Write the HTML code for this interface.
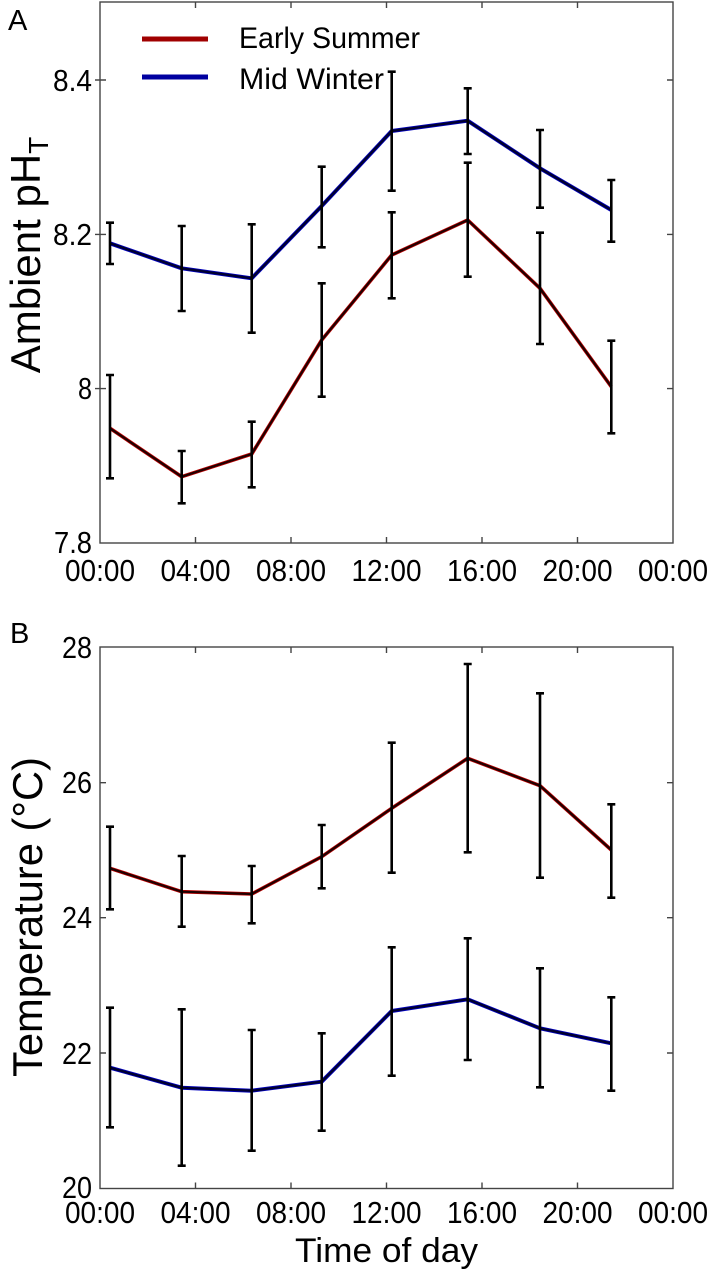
<!DOCTYPE html>
<html><head><meta charset="utf-8"><style>
html,body{margin:0;padding:0;background:#fff;}
svg{display:block;}
text{font-family:"Liberation Sans",sans-serif;fill:#000;}
</style></head><body>
<svg width="711" height="1280" viewBox="0 0 711 1280" xmlns="http://www.w3.org/2000/svg">
<!-- Panel labels -->
<text x="8" y="30" font-size="29">A</text>
<text x="10" y="643" font-size="29">B</text>

<!-- ===== Panel A ===== -->
<g stroke="#444" stroke-width="1.4" fill="none">
<rect x="100" y="2" width="573" height="541"/>
<path d="M195.5,543v-6M291,543v-6M386.5,543v-6M482,543v-6M577.5,543v-6
M195.5,2v6M291,2v6M386.5,2v6M482,2v6M577.5,2v6
M100,80h6M100,234.4h6M100,388.6h6M673,80h-6M673,234.4h-6M673,388.6h-6M95,80h5M95,234.4h5M95,388.6h5"/>
</g>
<g font-size="31" text-anchor="end">
<text x="92" y="91" textLength="39" lengthAdjust="spacingAndGlyphs">8.4</text>
<text x="92" y="245" textLength="39" lengthAdjust="spacingAndGlyphs">8.2</text>
<text x="92" y="399" textLength="14" lengthAdjust="spacingAndGlyphs">8</text>
<text x="92" y="553" textLength="38" lengthAdjust="spacingAndGlyphs">7.8</text>
</g>
<g font-size="31" text-anchor="middle">
<text x="100" y="581" textLength="70" lengthAdjust="spacingAndGlyphs">00:00</text>
<text x="195.5" y="581" textLength="70" lengthAdjust="spacingAndGlyphs">04:00</text>
<text x="291" y="581" textLength="70" lengthAdjust="spacingAndGlyphs">08:00</text>
<text x="386.5" y="581" textLength="70" lengthAdjust="spacingAndGlyphs">12:00</text>
<text x="482" y="581" textLength="70" lengthAdjust="spacingAndGlyphs">16:00</text>
<text x="577.5" y="581" textLength="70" lengthAdjust="spacingAndGlyphs">20:00</text>
<text x="673" y="581" textLength="70" lengthAdjust="spacingAndGlyphs">00:00</text>
</g>
<text transform="translate(40,255) rotate(-90)" font-size="42" text-anchor="middle">Ambient pH<tspan font-size="28" dy="8">T</tspan></text>

<!-- legend -->
<line x1="142" y1="39" x2="208" y2="39" stroke="#a00000" stroke-width="5"/>
<line x1="142" y1="77" x2="208" y2="77" stroke="#0000a0" stroke-width="5"/>
<text x="239" y="48" font-size="30" textLength="181" lengthAdjust="spacingAndGlyphs">Early Summer</text>
<text x="239" y="89" font-size="30" textLength="145" lengthAdjust="spacingAndGlyphs">Mid Winter</text>

<!-- series A -->
<g fill="none" stroke-linejoin="round">
<polyline points="110,243.3 181.7,268.3 251.7,278.3 321.7,206 391.7,131 467.7,120.7 540,168.3 611.3,210" stroke="#0000c0" stroke-width="4"/>
<polyline points="110,243.3 181.7,268.3 251.7,278.3 321.7,206 391.7,131 467.7,120.7 540,168.3 611.3,210" stroke="#000030" stroke-width="2.4"/>
<polyline points="110,428.3 181.7,476.7 251.7,454 321.7,340 391.7,255 467.7,220 540,288.3 611.3,386.7" stroke="#c00000" stroke-width="3.6"/>
<polyline points="110,428.3 181.7,476.7 251.7,454 321.7,340 391.7,255 467.7,220 540,288.3 611.3,386.7" stroke="#200000" stroke-width="2.2"/>
</g>
<g stroke="#000" stroke-width="2.6" fill="none">
<path d="M110,222.7V264M106,222.7h8M106,264h8
M181.7,226V311M177.7,226h8M177.7,311h8
M251.7,224.3V332.7M247.7,224.3h8M247.7,332.7h8
M321.7,166.7V247.3M317.7,166.7h8M317.7,247.3h8
M391.7,71.7V190.7M387.7,71.7h8M387.7,190.7h8
M467.7,88.3V154M463.7,88.3h8M463.7,154h8
M540,130V207.7M536,130h8M536,207.7h8
M611.3,180V241.7M607.3,180h8M607.3,241.7h8
M110,375V478.3M106,375h8M106,478.3h8
M181.7,451V503.3M177.7,451h8M177.7,503.3h8
M251.7,421.7V487.3M247.7,421.7h8M247.7,487.3h8
M321.7,283.3V396.7M317.7,283.3h8M317.7,396.7h8
M391.7,212.3V298.3M387.7,212.3h8M387.7,298.3h8
M467.7,162.7V276.7M463.7,162.7h8M463.7,276.7h8
M540,232.7V344M536,232.7h8M536,344h8
M611.3,340.7V433.3M607.3,340.7h8M607.3,433.3h8"/>
</g>

<!-- ===== Panel B ===== -->
<g stroke="#444" stroke-width="1.4" fill="none">
<rect x="100" y="647" width="573" height="541.5"/>
<path d="M195.5,1188.5v-6M291,1188.5v-6M386.5,1188.5v-6M482,1188.5v-6M577.5,1188.5v-6
M195.5,647v6M291,647v6M386.5,647v6M482,647v6M577.5,647v6
M100,782.7h6M100,917.7h6M100,1053h6M673,782.7h-6M673,917.7h-6M673,1053h-6"/>
</g>
<g font-size="31" text-anchor="end">
<text x="92" y="658" textLength="30" lengthAdjust="spacingAndGlyphs">28</text>
<text x="92" y="793" textLength="30" lengthAdjust="spacingAndGlyphs">26</text>
<text x="92" y="928" textLength="30" lengthAdjust="spacingAndGlyphs">24</text>
<text x="92" y="1064" textLength="30" lengthAdjust="spacingAndGlyphs">22</text>
<text x="92" y="1198" textLength="30" lengthAdjust="spacingAndGlyphs">20</text>
</g>
<g font-size="31" text-anchor="middle">
<text x="100" y="1223" textLength="70" lengthAdjust="spacingAndGlyphs">00:00</text>
<text x="195.5" y="1223" textLength="70" lengthAdjust="spacingAndGlyphs">04:00</text>
<text x="291" y="1223" textLength="70" lengthAdjust="spacingAndGlyphs">08:00</text>
<text x="386.5" y="1223" textLength="70" lengthAdjust="spacingAndGlyphs">12:00</text>
<text x="482" y="1223" textLength="70" lengthAdjust="spacingAndGlyphs">16:00</text>
<text x="577.5" y="1223" textLength="70" lengthAdjust="spacingAndGlyphs">20:00</text>
<text x="673" y="1223" textLength="70" lengthAdjust="spacingAndGlyphs">00:00</text>
</g>
<text transform="translate(42,917) rotate(-90)" font-size="42" text-anchor="middle" textLength="320" lengthAdjust="spacingAndGlyphs">Temperature (°C)</text>
<text x="386.5" y="1262" font-size="34" text-anchor="middle" textLength="183" lengthAdjust="spacingAndGlyphs">Time of day</text>

<g fill="none" stroke-linejoin="round">
<polyline points="110,1067.7 181.7,1087.7 251.7,1090.7 321.7,1081.7 391.7,1011 467.7,999.3 540,1028.3 611.3,1043.3" stroke="#0000c0" stroke-width="4"/>
<polyline points="110,1067.7 181.7,1087.7 251.7,1090.7 321.7,1081.7 391.7,1011 467.7,999.3 540,1028.3 611.3,1043.3" stroke="#000030" stroke-width="2.4"/>
<polyline points="110,868.3 181.7,891.7 251.7,894 321.7,856.7 391.7,808.3 467.7,758.3 540,785.7 611.3,850" stroke="#c00000" stroke-width="3.6"/>
<polyline points="110,868.3 181.7,891.7 251.7,894 321.7,856.7 391.7,808.3 467.7,758.3 540,785.7 611.3,850" stroke="#200000" stroke-width="2.2"/>
</g>
<g stroke="#000" stroke-width="2.6" fill="none">
<path d="M110,826.7V909.3M106,826.7h8M106,909.3h8
M181.7,856V926.7M177.7,856h8M177.7,926.7h8
M251.7,866V923.3M247.7,866h8M247.7,923.3h8
M321.7,825V888.3M317.7,825h8M317.7,888.3h8
M391.7,742.7V872.7M387.7,742.7h8M387.7,872.7h8
M467.7,664V852.3M463.7,664h8M463.7,852.3h8
M540,693.3V877.7M536,693.3h8M536,877.7h8
M611.3,804.3V897.7M607.3,804.3h8M607.3,897.7h8
M110,1007.7V1127.3M106,1007.7h8M106,1127.3h8
M181.7,1009.3V1165.7M177.7,1009.3h8M177.7,1165.7h8
M251.7,1030V1150.7M247.7,1030h8M247.7,1150.7h8
M321.7,1033.3V1130.7M317.7,1033.3h8M317.7,1130.7h8
M391.7,947.3V1075.7M387.7,947.3h8M387.7,1075.7h8
M467.7,938.3V1060M463.7,938.3h8M463.7,1060h8
M540,968.3V1087.3M536,968.3h8M536,1087.3h8
M611.3,997.3V1090.7M607.3,997.3h8M607.3,1090.7h8"/>
</g>
</svg>
</body></html>
